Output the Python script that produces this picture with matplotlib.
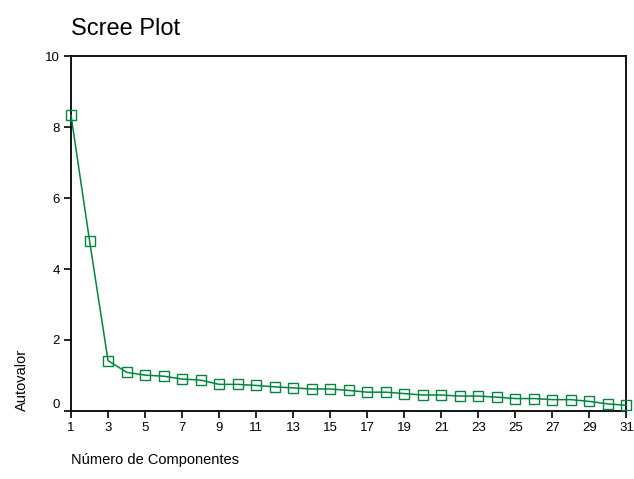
import matplotlib
matplotlib.use('Agg')
import matplotlib.pyplot as plt

plt.rcParams['font.family'] = ['Liberation Sans', 'DejaVu Sans']

# Data
componentes = list(range(1, 32))
autovalores = [8.33, 4.80, 1.42, 1.09, 1.01, 0.98, 0.90, 0.87, 0.75, 0.75,
               0.72, 0.68, 0.65, 0.62, 0.62, 0.58, 0.53, 0.53, 0.49, 0.45,
               0.45, 0.42, 0.42, 0.39, 0.35, 0.35, 0.32, 0.32, 0.27, 0.20,
               0.16]
x_ticks = list(range(1, 32, 2))
y_ticks = [0, 2, 4, 6, 8, 10]

fig = plt.figure(figsize=(6.34, 4.79), dpi=100)
ax = fig.add_axes([0.112, 0.142, 0.876, 0.741])

ax.plot(componentes, autovalores, color='#00853f', linewidth=1.1,
        marker='s', markersize=6.5, markerfacecolor='none',
        markeredgecolor='#00853f', markeredgewidth=1.0, clip_on=False, zorder=3)

ax.set_xlim(1, 31)
ax.set_ylim(0, 10)
ax.set_xticks(x_ticks)
ax.set_yticks(y_ticks)
ax.tick_params(axis='both', direction='out', length=5, width=1.2, labelsize=9.5, pad=3)
for s in ax.spines.values():
    s.set_linewidth(1.3)
    s.set_color('black')

# Lift the "0" label so it clears the x tick labels
ax.get_yticklabels()[0].set_va('bottom')

fig.text(0.112, 0.94, 'Scree Plot', fontsize=17, ha='left', va='center')
fig.text(0.112, 0.04, 'Número de Componentes', fontsize=10.5, ha='left', va='center')
fig.text(0.034, 0.142, 'Autovalor', fontsize=10.5, rotation=90, ha='center', va='bottom')

fig.savefig('out.png', dpi=100)
